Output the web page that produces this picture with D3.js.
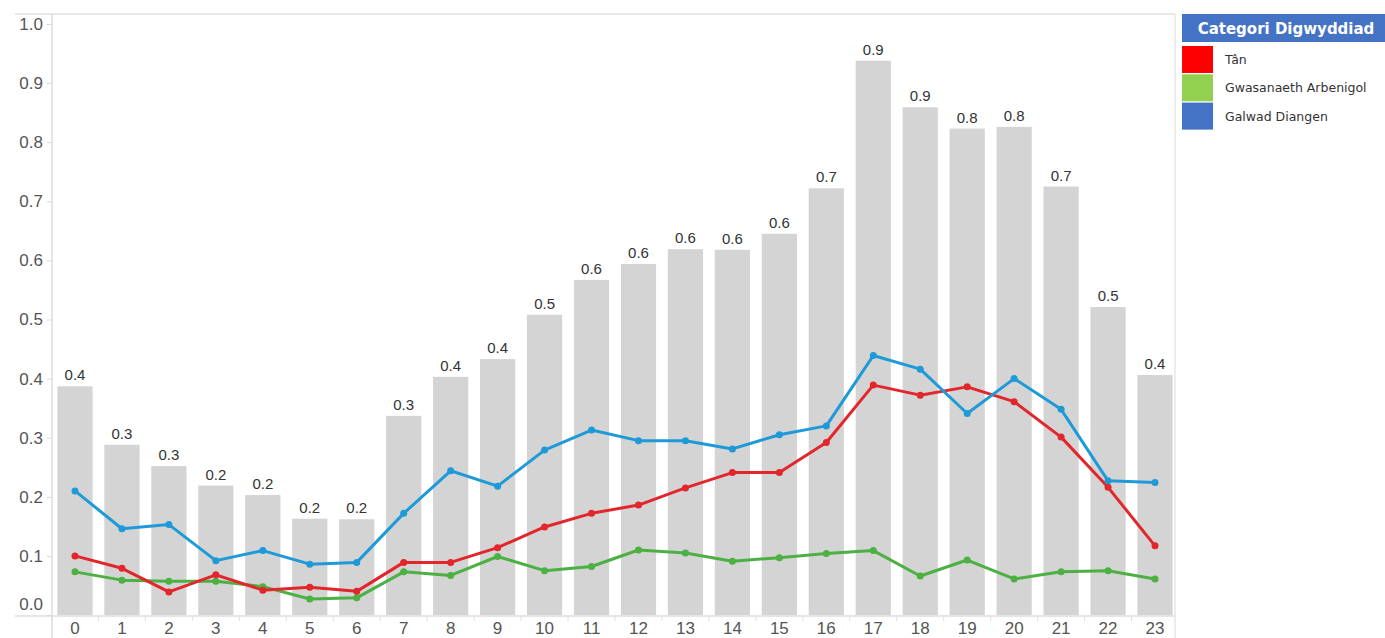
<!DOCTYPE html>
<html>
<head>
<meta charset="utf-8">
<script src="https://cdn.jsdelivr.net/npm/d3@7"></script>
<style>
  body { margin: 0; background: #fff; }
  svg { display: block; }
</style>
</head>
<body>
<div id="chart"></div>
<script>
// hours of the day
const hours = d3.range(0, 24);

// grey bars (total)
const totalValues = [0.387, 0.288, 0.252, 0.219, 0.203, 0.163, 0.162, 0.337, 0.403, 0.433,
  0.508, 0.567, 0.594, 0.619, 0.618, 0.645, 0.722, 0.938, 0.859, 0.823, 0.826, 0.725, 0.521, 0.406];

// line series
const tanValues = [0.100, 0.079, 0.039, 0.068, 0.042, 0.047, 0.040, 0.089, 0.089, 0.114,
  0.149, 0.172, 0.186, 0.215, 0.241, 0.241, 0.292, 0.389, 0.372, 0.386, 0.361, 0.301, 0.216, 0.117];
const arbenigolValues = [0.073, 0.059, 0.057, 0.057, 0.048, 0.027, 0.029, 0.073, 0.067, 0.099,
  0.075, 0.082, 0.110, 0.105, 0.091, 0.097, 0.104, 0.109, 0.066, 0.093, 0.061, 0.073, 0.075, 0.061];
const diangenValues = [0.210, 0.146, 0.153, 0.092, 0.109, 0.086, 0.089, 0.172, 0.244, 0.218,
  0.279, 0.313, 0.295, 0.295, 0.281, 0.305, 0.320, 0.439, 0.416, 0.341, 0.400, 0.348, 0.227, 0.224];

const yTicks = [0, 0.1, 0.2, 0.3, 0.4, 0.5, 0.6, 0.7, 0.8, 0.9, 1.0];

const legendTitle = "Categori Digwyddiad";
const seriesNames = ["Tân", "Gwasanaeth Arbenigol", "Galwad Diangen"];
const legendColors = ["#ff0000", "#92d050", "#4472c4"];
const lineColors = ["#e2262b", "#4cb043", "#1f9ad8"];

const width = 1385, height = 638;
const margin = {top: 14, right: 210, bottom: 23, left: 52};
const font = "'Liberation Sans', Arial, sans-serif";

const svg = d3.select("#chart")
  .append("svg")
  .attr("width", width)
  .attr("height", height);

const x = d3.scaleBand()
  .domain(hours)
  .range([51.5, 1178.5])
  .paddingInner(0.25)
  .paddingOuter(0.125);

const y = d3.scaleLinear()
  .domain([0, 1.0])
  .range([615, 24]);

const plotRight = 1175;

// frame lines
svg.append("line")
  .attr("x1", 15).attr("x2", plotRight)
  .attr("y1", margin.top).attr("y2", margin.top)
  .attr("stroke", "#e2e2e2").attr("stroke-width", 1.5);
svg.append("line")
  .attr("x1", plotRight).attr("x2", plotRight)
  .attr("y1", margin.top).attr("y2", height)
  .attr("stroke", "#e6e6e6").attr("stroke-width", 1.5);

// bars
svg.append("g")
  .selectAll("rect")
  .data(totalValues)
  .enter().append("rect")
    .attr("x", (d, i) => x(hours[i]))
    .attr("y", d => y(d))
    .attr("width", x.bandwidth())
    .attr("height", d => y(0) - y(d))
    .attr("fill", "#d4d4d4");

// bar labels
svg.append("g")
  .selectAll("text")
  .data(totalValues)
  .enter().append("text")
    .attr("x", (d, i) => x(hours[i]) + x.bandwidth() / 2)
    .attr("y", d => y(d) - 6)
    .attr("text-anchor", "middle")
    .style("font-family", font)
    .style("font-size", "15px")
    .attr("fill", "#333")
    .text(d => d3.format(".1f")(d));

// y axis
const yAxis = svg.append("g")
  .attr("transform", `translate(${margin.left},0)`)
  .call(d3.axisLeft(y).tickValues(yTicks).tickFormat(d3.format(".1f")).tickSize(5).tickPadding(4));
yAxis.select(".domain")
  .attr("d", `M0,${margin.top}V${height}`)
  .attr("stroke", "#dcdcdc").attr("stroke-width", 1.5);
yAxis.selectAll(".tick line").attr("stroke", "#d8d8d8");
yAxis.selectAll(".tick text")
  .style("font-family", font)
  .style("font-size", "17px")
  .attr("fill", "#555")
  .attr("dy", d => d === 0 ? "-0.3em" : "0.32em");

// x axis
const xAxis = svg.append("g")
  .attr("transform", `translate(0,${y(0) + 1})`)
  .call(d3.axisBottom(x).tickSize(0).tickPadding(6));
xAxis.select(".domain").remove();
xAxis.selectAll(".tick text")
  .style("font-family", font)
  .style("font-size", "17px")
  .attr("fill", "#555");

svg.append("line")
  .attr("x1", 15).attr("x2", plotRight)
  .attr("y1", y(0) + 1).attr("y2", y(0) + 1)
  .attr("stroke", "#dcdcdc").attr("stroke-width", 1.5);

// separators below baseline
svg.append("g")
  .selectAll("line")
  .data(hours)
  .enter().append("line")
    .attr("x1", d => x(d) - x.step() * x.paddingInner() / 2)
    .attr("x2", d => x(d) - x.step() * x.paddingInner() / 2)
    .attr("y1", y(0) + 1).attr("y2", y(0) + 6)
    .attr("stroke", "#e0e0e0");

// lines
const series = [
  {name: seriesNames[1], values: arbenigolValues, color: lineColors[1]},
  {name: seriesNames[0], values: tanValues, color: lineColors[0]},
  {name: seriesNames[2], values: diangenValues, color: lineColors[2]}
];

const line = d3.line()
  .x((d, i) => x(hours[i]) + x.bandwidth() / 2)
  .y(d => y(d));

series.forEach(s => {
  const g = svg.append("g");
  g.append("path")
    .datum(s.values)
    .attr("d", line)
    .attr("fill", "none")
    .attr("stroke", s.color)
    .attr("stroke-width", 3)
    .attr("stroke-linejoin", "round");
  g.selectAll("circle")
    .data(s.values)
    .enter().append("circle")
      .attr("cx", (d, i) => x(hours[i]) + x.bandwidth() / 2)
      .attr("cy", d => y(d))
      .attr("r", 3.5)
      .attr("fill", s.color);
});

// legend
const legend = svg.append("g");
legend.append("rect")
  .attr("x", 1182).attr("y", 14)
  .attr("width", width - 1182).attr("height", 28)
  .attr("fill", "#4472c4");
legend.append("text")
  .attr("x", 1286).attr("y", 34)
  .attr("text-anchor", "middle")
  .style("font-family", "'DejaVu Sans', sans-serif")
  .style("font-size", "15px")
  .style("font-weight", "bold")
  .attr("fill", "#fff")
  .text(legendTitle);

const items = legend.selectAll(".item")
  .data(seriesNames)
  .enter().append("g")
    .attr("class", "item")
    .attr("transform", (d, i) => `translate(1182,${46 + i * 28.3})`);
items.append("rect")
  .attr("width", 31).attr("height", 27)
  .attr("fill", (d, i) => legendColors[i]);
items.append("text")
  .attr("x", 43).attr("y", 18)
  .style("font-family", "'DejaVu Sans', sans-serif")
  .style("font-size", "12.5px")
  .attr("fill", "#333")
  .text(d => d);
</script>
</body>
</html>
